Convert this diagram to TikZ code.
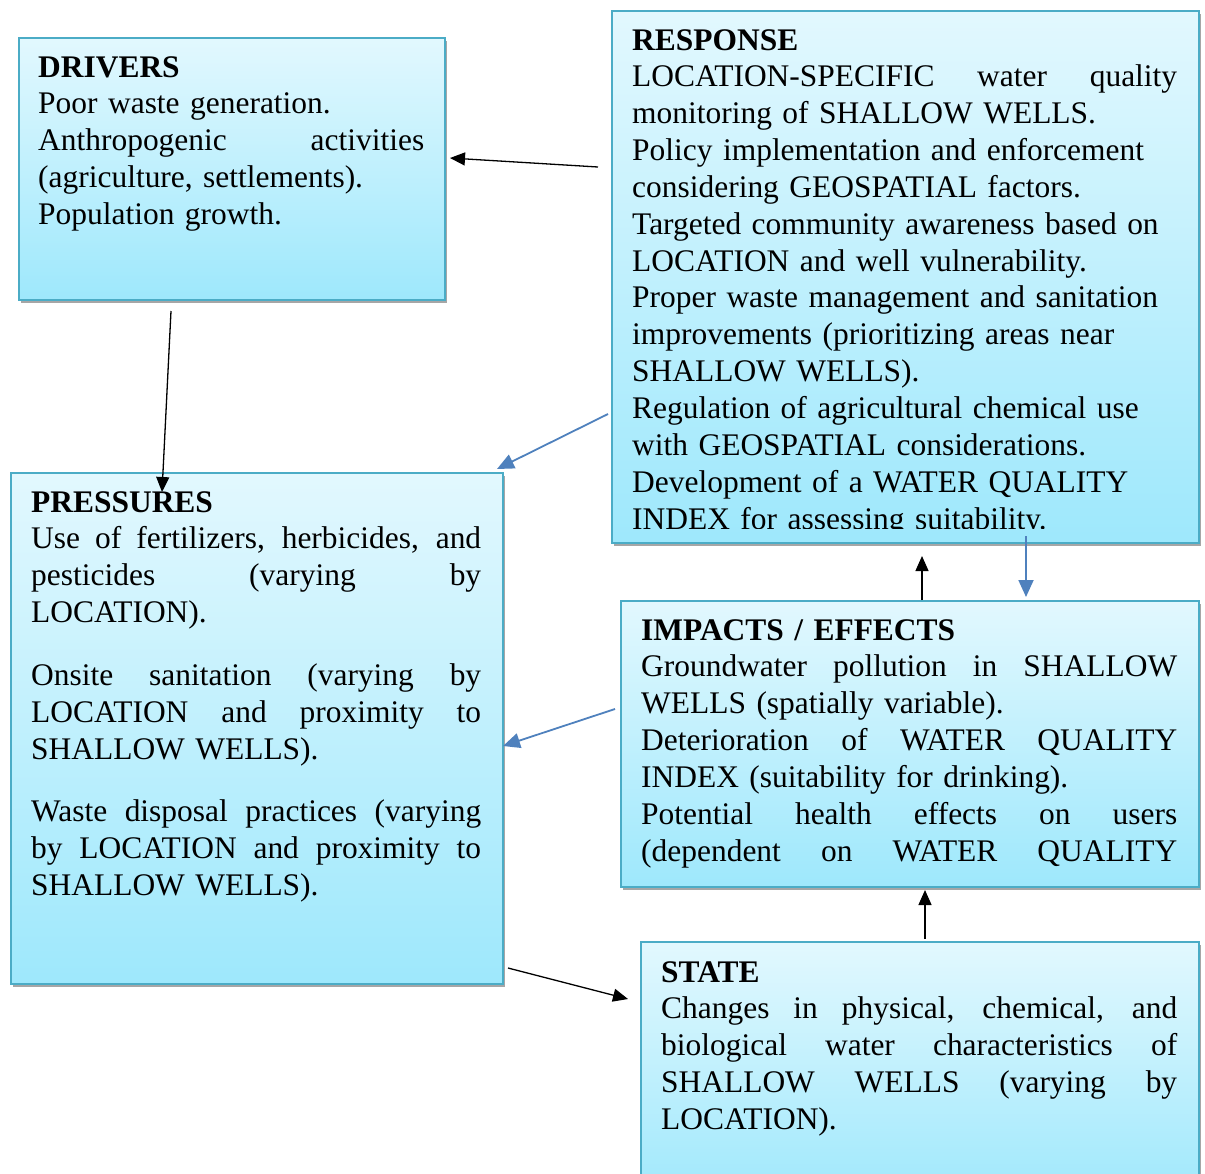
\documentclass[tikz,border=0pt]{standalone}
\usepackage{fontspec}
\setmainfont{Liberation Serif}
\usetikzlibrary{arrows.meta,shadows}
\definecolor{bordc}{RGB}{75,172,198}
\definecolor{topc}{RGB}{226,248,254}
\definecolor{botc}{RGB}{158,232,252}
\definecolor{bluearr}{RGB}{79,129,189}
\newcommand{\jline}[2]{\leavevmode\hbox to #1{\spaceskip=0.25em plus 10em\relax #2}}
\tikzset{
 box/.style={draw=bordc, line width=2pt, top color=topc, bottom color=botc,
   anchor=north west, inner sep=0pt,
   drop shadow={shadow xshift=1.5pt, shadow yshift=-3pt, opacity=0.35, fill=black}},
 txt/.style={anchor=base west, inner sep=0pt, font=\fontsize{31.45}{36.85}\selectfont, text width=#1},
 karr/.style={draw=black, line width=1.3pt, -{Triangle[length=15pt,width=13pt]}},
 barr/.style={color=bluearr, line width=1.8pt, -{Triangle[length=17pt,width=15pt]}}
}
\begin{document}
\begin{tikzpicture}[x=1pt,y=-1pt]
\useasboundingbox (0,0) rectangle (1205,1173);
\clip (0,0) rectangle (1205,1173);
% boxes
\node[box, minimum width=426pt, minimum height=262pt] (drivers) at (18,37) {};
\node[box, minimum width=587pt, minimum height=532pt] (response) at (611,10) {};
\node[box, minimum width=492pt, minimum height=511pt] (pressures) at (10,472) {};
\node[box, minimum width=578pt, minimum height=286pt] (impacts) at (620,600) {};
\node[box, minimum width=558pt, minimum height=262pt] (state) at (640,941) {};
% texts
\node[txt=386pt] (driverstxt) at (38,77) {\textbf{DRIVERS}\\
Poor waste generation.\\
\jline{386pt}{Anthropogenic activities}\\
(agriculture, settlements).\\
Population growth.};
\begin{scope}
\clip (611,10) rectangle (1198,528);
\node[txt=545pt] (responsetxt) at (632,50) {\textbf{RESPONSE}\\
\jline{545pt}{LOCATION-SPECIFIC water quality}\\
monitoring of SHALLOW WELLS.\\
Policy implementation and enforcement\\
considering GEOSPATIAL factors.\\
Targeted community awareness based on\\
LOCATION and well vulnerability.\\
Proper waste management and sanitation\\
improvements (prioritizing areas near\\
SHALLOW WELLS).\\
Regulation of agricultural chemical use\\
with GEOSPATIAL considerations.\\
Development of a WATER QUALITY\\
INDEX for assessing suitability.};
\end{scope}
\node[txt=450pt] (pressurestxt) at (31,512) {\textbf{PRESSURES}\\
\jline{450pt}{Use of fertilizers, herbicides, and}\\
\jline{450pt}{pesticides (varying by}\\
LOCATION).\\[26pt]
\jline{450pt}{Onsite sanitation (varying by}\\
\jline{450pt}{LOCATION and proximity to}\\
SHALLOW WELLS).\\[26pt]
\jline{450pt}{Waste disposal practices (varying}\\
\jline{450pt}{by LOCATION and proximity to}\\
SHALLOW WELLS).};
\node[txt=536pt] (impactstxt) at (641,640) {\textbf{IMPACTS / EFFECTS}\\
\jline{536pt}{Groundwater pollution in SHALLOW}\\
WELLS (spatially variable).\\
\jline{536pt}{Deterioration of WATER QUALITY}\\
INDEX (suitability for drinking).\\
\jline{536pt}{Potential health effects on users}\\
\jline{536pt}{(dependent on WATER QUALITY}};
\node[txt=516pt] (statetxt) at (661,982) {\textbf{STATE}\\
\jline{516pt}{Changes in physical, chemical, and}\\
\jline{516pt}{biological water characteristics of}\\
\jline{516pt}{SHALLOW WELLS (varying by}\\
LOCATION).};
% connector end points
\coordinate (rd1) at (598,167);  \coordinate (rd2) at (450,158);
\coordinate (dp1) at (171,311);  \coordinate (dp2) at (162,492);
\coordinate (rp1) at (608,414);  \coordinate (rp2) at (497,469);
\coordinate (ip1) at (615,709);  \coordinate (ip2) at (503,746);
\coordinate (ir1) at (922,600);  \coordinate (ir2) at (922,556);
\coordinate (ri1) at (1026,536); \coordinate (ri2) at (1026,597);
\coordinate (si1) at (925,939);  \coordinate (si2) at (925,890);
\coordinate (ps1) at (508,968);  \coordinate (ps2) at (628,999);
% connectors
\draw[karr] (rd1) -- (rd2);
\draw[karr] (dp1) -- (dp2);
\draw[barr] (rp1) -- (rp2);
\draw[barr] (ip1) -- (ip2);
\draw[karr] (ir1) -- (ir2);
\draw[barr] (ri1) -- (ri2);
\draw[karr] (si1) -- (si2);
\draw[karr] (ps1) -- (ps2);
\end{tikzpicture}
\end{document}
